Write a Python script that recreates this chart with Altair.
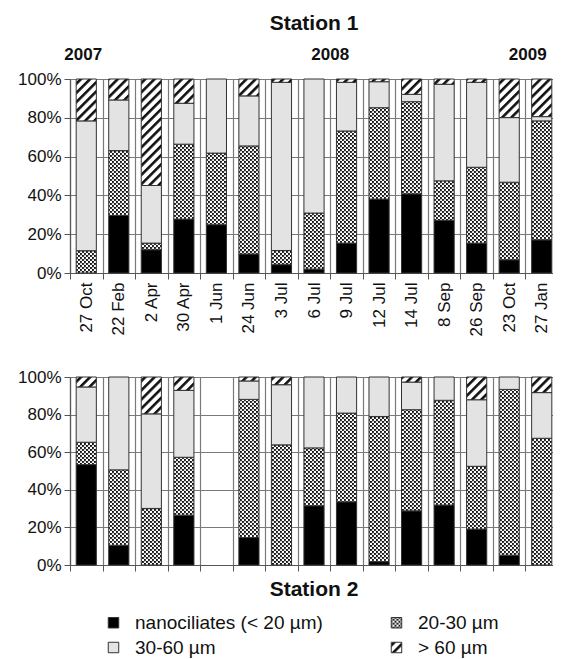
import altair as alt
import pandas as pd
import jinja2

# ---------------- data ----------------
dates = ["27 Oct", "22 Feb", "2 Apr", "30 Apr", "1 Jun", "24 Jun", "3 Jul", "6 Jul",
         "9 Jul", "12 Jul", "14 Jul", "8 Sep", "26 Sep", "23 Oct", "27 Jan"]
classes = ["nanociliates (< 20 µm)", "20-30 µm", "30-60 µm", "> 60 µm"]

# Station 1 (% of total)
s1_nano = [0, 29.7, 12, 27.8, 24.9, 9.8, 4.3, 2, 15.4, 38.1, 40.8, 27.1, 15.4, 6.8, 17.1]
s1_2030 = [11.5, 33.4, 3.4, 38.6, 36.9, 55.7, 7.3, 28.9, 57.8, 47.1, 47.5, 20.4, 39.1, 40, 61.3]
s1_3060 = [66.9, 26.1, 29.7, 21.1, 38.2, 25.8, 86.7, 69.1, 25.1, 13.4, 3.8, 49.8, 43.8, 33.3, 2.2]
s1_gt60 = [21.6, 10.8, 54.9, 12.5, 0, 8.7, 1.7, 0, 1.7, 1.4, 7.9, 2.7, 1.7, 19.9, 19.4]

# Station 2 (% of total), no sample on 1 Jun
s2_nano = [53.4, 10.5, 0, 26.5, None, 14.6, 0, 31.5, 33.6, 1.8, 28.8, 31.9, 19.1, 5.2, 0]
s2_2030 = [11.9, 40.1, 30.1, 30.8, None, 73.5, 63.9, 30.8, 47.2, 77.2, 53.8, 55.7, 33.4, 88.2, 67.4]
s2_3060 = [29.4, 49.4, 50.3, 35.6, None, 9.8, 32, 37.7, 19.2, 21, 14.7, 12.4, 35.4, 6.6, 24.3]
s2_gt60 = [5.3, 0, 19.6, 7.1, None, 2.1, 4.1, 0, 0, 0, 2.7, 0, 12.1, 0, 8.3]

years = ["2007", "2008", "2009"]
year_at = ["27 Oct", "6 Jul", "27 Jan"]

fills = ["#000000", "url(#dots)", "#e3e3e3", "url(#hatch)"]

FONT = "Liberation Sans"


def build(series):
    rows = []
    for k, (cls, vals) in enumerate(zip(classes, series)):
        for d, v in zip(dates, vals):
            if v is None or v <= 0:
                continue
            rows.append({"date": d, "cls": cls, "k": k, "value": v / 100.0})
    return pd.DataFrame(rows)


df1 = build([s1_nano, s1_2030, s1_3060, s1_gt60])
df2 = build([s2_nano, s2_2030, s2_3060, s2_gt60])
dfy = pd.DataFrame({"year": years, "at": year_at})

xscale = alt.Scale(domain=dates, paddingInner=0, paddingOuter=0)
yscale = alt.Scale(domain=[0, 1], nice=False, clamp=True)
cscale = alt.Scale(domain=classes, range=fills)

legend = alt.Legend(
    title=None, orient="none", legendX=34, legendY=534, direction="horizontal",
    columns=2, columnPadding=64, rowPadding=5, symbolType="square", symbolSize=110,
    symbolStrokeColor="#333", symbolStrokeWidth=1, labelFontSize=19, labelFont=FONT,
    labelColor="#111", labelOffset=12, labelLimit=400,
)


def yaxis():
    return alt.Axis(title=None, values=[0, 0.2, 0.4, 0.6, 0.8, 1.0], format=".0%",
                    labelFontSize=17, labelFont=FONT, labelColor="#111", tickSize=6,
                    labelPadding=3, grid=True, gridColor="#7a7a7a", gridWidth=1.2,
                    domainColor="#555", tickColor="#555", domainWidth=1.2)


def xaxis(labels):
    return alt.Axis(title=None, labels=labels, labelAngle=-90, labelFontSize=17,
                    labelFont=FONT, labelColor="#111", tickBand="extent", grid=True,
                    gridColor="#7a7a7a", gridWidth=1.2, tickSize=6, labelPadding=3,
                    domainColor="#555", tickColor="#555", domainWidth=1.2)


def bars(df, labels, height):
    return alt.Chart(df).mark_bar(
        width=alt.RelativeBandSize(0.62), stroke="#333", strokeWidth=1
    ).encode(
        x=alt.X("date:N", sort=dates, scale=xscale, axis=xaxis(labels)),
        y=alt.Y("value:Q", stack="zero", scale=yscale, axis=yaxis()),
        color=alt.Color("cls:N", scale=cscale, legend=legend),
        order=alt.Order("k:Q", sort="ascending"),
    ).properties(width=488, height=height)


# placement style of each year label (offset from its anchor bar)
year_style = {"2007": dict(dx=-3, band=0.5), "2008": dict(dx=0, band=1.0),
              "2009": dict(dx=-14, band=0.5)}

year_layers = []
for yr in years:
    st = year_style[yr]
    year_layers.append(
        alt.Chart(dfy[dfy["year"] == yr]).mark_text(
            fontSize=17, fontWeight="bold", font=FONT, baseline="middle", color="#111",
            dx=st["dx"]
        ).encode(x=alt.X("at:N", sort=dates, scale=xscale, bandPosition=st["band"]),
                 y=alt.value(-24), text="year:N")
    )

top = alt.layer(bars(df1, True, 194), *year_layers).properties(
    title=alt.TitleParams("Station 1", fontSize=21, fontWeight="bold", font=FONT,
                          color="#111", offset=12, anchor="middle")
)

bottom = bars(df2, False, 188).properties(
    title=alt.TitleParams("Station 2", orient="bottom", fontSize=21, fontWeight="bold",
                          font=FONT, color="#111", offset=6, anchor="middle")
)

chart = alt.vconcat(top, bottom, spacing=30).resolve_scale(x="shared").properties(
    padding={"left": 9, "top": 4, "right": 0, "bottom": 0}
).configure_view(stroke="#7a7a7a", strokeWidth=1.2).configure(background="white")

TEMPLATE = jinja2.Template("""<!DOCTYPE html>
<html>
<head>
<meta charset="utf-8">
<style>html, body { overflow: hidden; }</style>
<script type="text/javascript" src="{{ base_url }}/vega@{{ vega_version }}"></script>
<script type="text/javascript" src="{{ base_url }}/vega-lite@{{ vegalite_version }}"></script>
<script type="text/javascript" src="{{ base_url }}/vega-embed@{{ vegaembed_version }}"></script>
</head>
<body>
<svg width="0" height="0" style="position:absolute">
  <defs>
    <pattern id="dots" patternUnits="userSpaceOnUse" width="4" height="4">
      <rect width="4" height="4" fill="#ffffff"/>
      <rect x="0" y="0" width="1.9" height="1.9" fill="#111"/>
      <rect x="2" y="2" width="1.9" height="1.9" fill="#111"/>
      <rect x="2.4" y="0.3" width="0.9" height="0.9" fill="#666"/>
    </pattern>
    <pattern id="hatch" patternUnits="userSpaceOnUse" width="6.5" height="6.5"
             patternTransform="rotate(45)">
      <rect width="6.5" height="6.5" fill="#ffffff"/>
      <rect x="0" y="0" width="2.6" height="6.5" fill="#111"/>
    </pattern>
  </defs>
</svg>
<div id="{{ output_div }}"></div>
<script type="text/javascript">
  vegaEmbed("#{{ output_div }}", {{ spec }}, {{ embed_options }}).catch(console.error);
</script>
</body>
</html>
""")

chart.save("out.html", embed_options={"renderer": "svg", "actions": False}, template=TEMPLATE)
